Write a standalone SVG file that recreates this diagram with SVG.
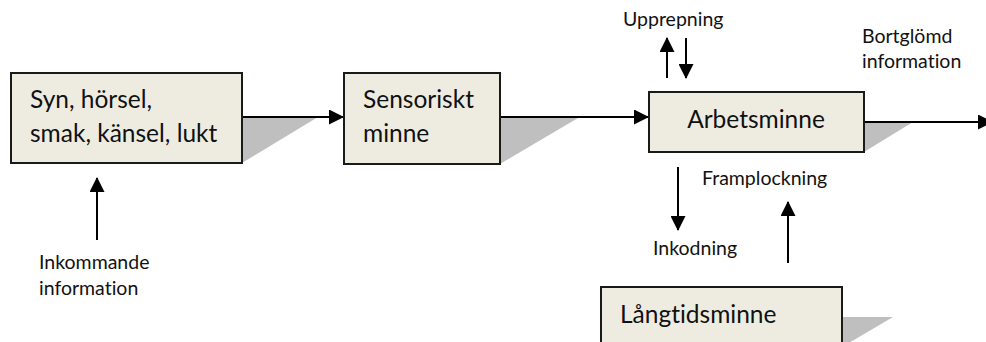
<svg xmlns="http://www.w3.org/2000/svg" width="986" height="342" viewBox="0 0 986 342">
<style>
.box{fill:#EEECE1;stroke:#1a1a1a;stroke-width:2}
.shadow{fill:#BFBFBF;stroke:none}
text{font-family:Lato,"Open Sans","Liberation Sans",sans-serif;fill:#111;font-variant-ligatures:none}
.big{font-size:24.5px}
.small{font-size:19.5px}
.conn{stroke:#000;stroke-width:2;fill:none;marker-end:url(#ah)}
</style>
<defs>
<marker id="ah" markerUnits="userSpaceOnUse" markerWidth="15" markerHeight="15" refX="14" refY="7.5" orient="auto">
<path d="M0,0 L15,7.5 L0,15 z" fill="#000"/>
</marker>
</defs>
<rect width="986" height="342" fill="#fff"/>
<g id="shadows">
<polygon class="shadow" points="242,117 318,117 242,163"/>
<polygon class="shadow" points="500,118 578,118 500,164"/>
<polygon class="shadow" points="864,122 913,122 864,152"/>
<polygon class="shadow" points="842,317 893,317 842,347"/>
</g>
<g id="connectors">
<line class="conn" x1="242" y1="117" x2="343" y2="117"/>
<line class="conn" x1="500" y1="117" x2="648" y2="117"/>
<line class="conn" x1="864" y1="122" x2="992" y2="122"/>
<line class="conn" x1="97" y1="240" x2="97" y2="178"/>
<line class="conn" x1="667" y1="78" x2="667" y2="38"/>
<line class="conn" x1="686" y1="38" x2="686" y2="78"/>
<line class="conn" x1="678" y1="167" x2="678" y2="230"/>
<line class="conn" x1="788" y1="263" x2="788" y2="202"/>
</g>
<g id="sinnen">
<rect class="box" x="11" y="73" width="231" height="90"/>
<text class="big" x="30" y="108">Syn, hörsel,</text>
<text class="big" x="30" y="142">smak, känsel, lukt</text>
</g>
<g id="sensoriskt">
<rect class="box" x="344" y="73" width="156" height="91"/>
<text class="big" x="363" y="108">Sensoriskt</text>
<text class="big" x="363" y="142">minne</text>
</g>
<g id="arbetsminne">
<rect class="box" x="649" y="92" width="215" height="60"/>
<text class="big" x="756" y="128" text-anchor="middle">Arbetsminne</text>
</g>
<g id="langtidsminne">
<rect class="box" x="601" y="287" width="241" height="70"/>
<text class="big" x="620" y="323">Långtidsminne</text>
</g>
<g id="labels">
<text class="small" x="39" y="269">Inkommande</text>
<text class="small" x="39" y="295">information</text>
<text class="small" x="623" y="26">Upprepning</text>
<text class="small" x="862" y="43">Bortglömd</text>
<text class="small" x="862" y="68">information</text>
<text class="small" x="702" y="185">Framplockning</text>
<text class="small" x="653" y="255">Inkodning</text>
</g>
</svg>
